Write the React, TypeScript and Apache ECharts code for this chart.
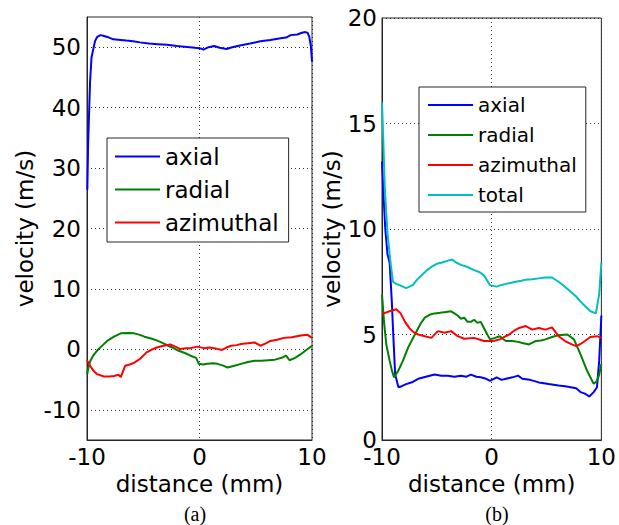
import React, { useEffect, useRef } from "react";
import * as echarts from "echarts";

// ---- Panel (a) data ----
const axialA_x = [-9.97, -9.9, -9.8, -9.73, -9.6, -9.45, -9.29, -9.1, -8.8, -8.55, -8.2, -7.66, -7.0, -6.5, -5.9, -5.3, -4.5, -3.7, -2.9, -2.0, -1.1, -0.4, 0.1, 0.35, 0.8, 1.3, 1.8, 2.4, 2.9, 3.6, 4.5, 5.4, 6.3, 7.2, 7.7, 8.1, 8.7, 9.1, 9.4, 9.6, 9.75, 9.9, 10];
const axialA_y = [26.4, 34, 40, 44.2, 48.3, 49.6, 51.0, 51.7, 52.0, 51.9, 51.7, 51.3, 51.2, 51.1, 51.0, 50.8, 50.6, 50.5, 50.4, 50.2, 50.05, 49.9, 49.8, 49.6, 50.0, 50.2, 49.9, 49.7, 50.0, 50.3, 50.6, 51.0, 51.2, 51.5, 51.6, 52.0, 52.1, 52.4, 52.5, 52.4, 51.8, 50.2, 47.6];

const radialA_x = [-9.98, -9.85, -9.7, -9.4, -9.1, -8.6, -8.2, -7.6, -7.0, -6.4, -5.8, -5.3, -4.9, -4.3, -3.7, -3.2, -2.8, -2.3, -1.9, -1.3, -0.8, -0.3, -0.06, 0.3, 0.7, 1.2, 1.6, 2.1, 2.5, 3.1, 3.7, 4.3, 4.9, 5.5, 6.1, 6.7, 7.3, 7.7, 8.0, 8.5, 9.0, 9.5, 10];
const radialA_y = [-4.1, -2.8, -1.9, -0.9, -0.2, 0.7, 1.4, 2.1, 2.65, 2.7, 2.65, 2.4, 2.1, 1.8, 1.4, 1.0, 0.6, 0.2, -0.2, -0.6, -1.05, -1.4, -2.4, -2.5, -2.4, -2.3, -2.4, -2.7, -3.0, -2.7, -2.4, -2.1, -1.9, -1.9, -1.8, -1.7, -1.4, -1.05, -1.8, -1.4, -0.8, -0.1, 0.6];

const azimA_x = [-10, -9.7, -9.4, -9.1, -8.5, -8.0, -7.6, -7.2, -7.0, -6.6, -6.2, -5.8, -5.3, -4.7, -4.2, -3.8, -3.2, -2.6, -2.1, -1.7, -1.2, -0.8, -0.2, 0.4, 0.9, 1.3, 2.0, 2.4, 2.8, 3.3, 3.7, 4.3, 4.9, 5.4, 5.9, 6.3, 6.9, 7.5, 8.2, 9.0, 9.6, 10];
const azimA_y = [-1.8, -2.8, -3.6, -4.1, -4.5, -4.5, -4.4, -4.2, -4.6, -2.7, -2.5, -2.2, -1.6, -0.5, 0.0, 0.3, 0.6, 0.8, 0.4, 0.05, 0.2, 0.2, 0.45, 0.2, 0.3, 0.2, -0.1, 0.3, 0.6, 0.7, 0.9, 1.0, 1.15, 0.6, 1.0, 1.4, 1.6, 1.9, 2.0, 2.3, 2.4, 1.9];

// ---- Panel (b) data ----
const axialB_x = [-10, -9.85, -9.7, -9.5, -9.3, -9.1, -9.0, -8.8, -8.5, -8.2, -7.8, -7.2, -6.7, -6.0, -5.2, -4.6, -4.0, -3.4, -2.8, -2.3, -1.9, -1.4, -1.0, -0.5, -0.15, 0.45, 0.9, 1.3, 1.9, 2.4, 2.8, 3.5, 4.3, 5.2, 6.1, 6.7, 7.2, 7.7, 8.1, 8.5, 8.9, 9.3, 9.6, 9.8, 10];
const axialB_y = [13.2, 11.5, 10.0, 8.8, 8.4, 6.5, 5.3, 3.1, 2.5, 2.55, 2.65, 2.75, 2.9, 3.0, 3.1, 3.05, 3.05, 3.0, 3.05, 3.0, 3.1, 3.0, 2.97, 2.9, 2.8, 2.97, 2.85, 2.9, 2.97, 3.05, 2.9, 2.85, 2.73, 2.65, 2.58, 2.55, 2.5, 2.45, 2.27, 2.2, 2.06, 2.27, 2.5, 3.75, 5.9];

const radialB_x = [-10, -9.8, -9.6, -9.3, -9.1, -8.9, -8.5, -8.1, -7.6, -7.0, -6.5, -6.1, -5.6, -5.2, -4.7, -4.3, -3.7, -3.4, -3.1, -2.8, -2.5, -2.2, -1.9, -1.6, -1.3, -1.0, -0.7, -0.4, -0.15, 0.3, 0.74, 1.0, 1.3, 1.9, 2.4, 2.8, 3.4, 4.0, 4.5, 4.9, 5.5, 6.1, 6.9, 7.5, 8.1, 8.7, 9.3, 9.6, 9.8, 10];
const radialB_y = [6.9, 5.5, 4.5, 3.75, 3.3, 2.97, 3.3, 3.75, 4.4, 5.0, 5.5, 5.8, 5.95, 6.0, 6.03, 6.06, 6.1, 6.0, 5.9, 5.75, 5.8, 5.6, 5.6, 5.7, 5.55, 5.6, 5.3, 5.0, 4.77, 4.84, 4.92, 4.8, 4.69, 4.69, 4.65, 4.6, 4.53, 4.69, 4.72, 4.77, 4.88, 4.97, 5.0, 4.77, 4.06, 3.28, 2.66, 2.8, 3.1, 3.6];

const azimB_x = [-10, -9.6, -9.3, -8.7, -8.3, -7.9, -7.5, -7.1, -6.7, -6.1, -5.5, -4.9, -4.3, -3.7, -3.1, -2.5, -1.6, -0.7, 0.15, 0.74, 1.2, 1.6, 2.1, 2.5, 3.1, 3.7, 4.3, 4.9, 5.5, 6.1, 6.7, 7.3, 7.7, 8.1, 8.5, 9.0, 9.6, 10];
const azimB_y = [5.97, 6.05, 6.1, 6.2, 6.0, 5.6, 5.3, 5.1, 5.0, 4.92, 4.84, 5.16, 5.08, 5.16, 4.92, 4.8, 4.84, 4.69, 4.69, 4.77, 4.9, 5.0, 5.2, 5.31, 5.4, 5.23, 5.31, 5.23, 5.34, 4.92, 4.69, 4.53, 4.45, 4.55, 4.69, 4.88, 4.92, 4.84];

const totalB_x = [-10, -9.9, -9.75, -9.5, -9.2, -9.0, -8.7, -8.4, -7.8, -7.2, -6.8, -6.4, -5.9, -5.5, -5.0, -4.6, -4.0, -3.6, -3.2, -2.8, -2.2, -1.6, -1.1, -0.7, -0.15, 0.45, 0.9, 1.3, 1.8, 2.2, 2.7, 3.1, 3.7, 4.3, 4.9, 5.5, 6.1, 6.6, 7.2, 7.7, 8.1, 8.6, 9.0, 9.5, 9.8, 10];
const totalB_y = [16.0, 14.5, 12.0, 9.8, 8.3, 7.5, 7.4, 7.34, 7.2, 7.34, 7.6, 7.8, 8.05, 8.2, 8.35, 8.4, 8.5, 8.55, 8.4, 8.3, 8.2, 8.05, 7.95, 7.8, 7.34, 7.27, 7.35, 7.4, 7.45, 7.5, 7.55, 7.6, 7.62, 7.66, 7.7, 7.7, 7.5, 7.3, 7.03, 6.8, 6.56, 6.3, 6.1, 6.0, 6.9, 8.4];

const legendA = ["axial", "radial", "azimuthal"];
const legendB = ["axial", "radial", "azimuthal", "total"];
const xTicks = { min: -10, max: 10, interval: 10 };
const yTicksA = { min: -15, max: 55, interval: 5, labelStep: 10 };
const yTicksB = { min: 0, max: 20, interval: 5 };
const xName = "distance (mm)";
const yName = "velocity (m/s)";
const panelLabels = ["(a)", "(b)"];

const COLORS = { axial: "#0000ff", radial: "#008000", azimuthal: "#ff0000", total: "#00bfbf" };

const zip = (xs: number[], ys: number[]) => xs.map((x, i) => [x, ys[i]]);

const FONT = "DejaVu Sans";
const AXIS_COLOR = "#262626";

export default function App() {
  const ref = useRef<HTMLDivElement>(null);
  useEffect(() => {
    document.body.style.margin = "0";
    const chart = echarts.init(ref.current!, null, { renderer: "svg" });
    const labelStyle = { color: "#000", fontFamily: FONT, fontSize: 23 };
    const gridLine = { show: true, lineStyle: { color: "#333", type: [1, 3], width: 1 } };
    const axisLine = { show: true, onZero: false, lineStyle: { color: AXIS_COLOR, width: 1 } };
    const mkX = (gridIndex: number) => ({
      type: "value",
      gridIndex,
      min: xTicks.min,
      max: xTicks.max,
      interval: xTicks.interval,
      name: xName,
      nameLocation: "middle",
      nameGap: 25,
      nameTextStyle: labelStyle,
      axisLine,
      axisTick: { show: false },
      axisLabel: { ...labelStyle, margin: 5 },
      splitLine: gridLine,
    });
    const series: any[] = [
      { name: "axial", data: zip(axialA_x, axialA_y), xAxisIndex: 0, yAxisIndex: 0 },
      { name: "radial", data: zip(radialA_x, radialA_y), xAxisIndex: 0, yAxisIndex: 0 },
      { name: "azimuthal", data: zip(azimA_x, azimA_y), xAxisIndex: 0, yAxisIndex: 0 },
      { name: "axial", data: zip(axialB_x, axialB_y), xAxisIndex: 1, yAxisIndex: 1 },
      { name: "radial", data: zip(radialB_x, radialB_y), xAxisIndex: 1, yAxisIndex: 1 },
      { name: "azimuthal", data: zip(azimB_x, azimB_y), xAxisIndex: 1, yAxisIndex: 1 },
      { name: "total", data: zip(totalB_x, totalB_y), xAxisIndex: 1, yAxisIndex: 1 },
    ].map((s) => ({
      ...s,
      type: "line",
      showSymbol: false,
      symbol: "none",
      color: (COLORS as any)[s.name],
      lineStyle: { width: 2, color: (COLORS as any)[s.name] },
      z: 3,
    }));
    const legendBase = {
      orient: "vertical",
      icon: "rect",
      itemWidth: 45,
      itemHeight: 2,
      borderColor: AXIS_COLOR,
      borderWidth: 1,
      backgroundColor: "#fff",
      borderRadius: 0,
      selectedMode: false,
      z: 10,
    };
    chart.setOption({
      animation: false,
      grid: [
        { left: 87, top: 17, width: 225, height: 423, show: true, borderColor: AXIS_COLOR, borderWidth: 1, backgroundColor: "transparent" },
        { left: 382, top: 18, width: 226, height: 422, show: true, borderColor: AXIS_COLOR, borderWidth: 1, backgroundColor: "transparent" },
      ],
      xAxis: [mkX(0), mkX(1)],
      yAxis: [
        {
          type: "value",
          gridIndex: 0,
          min: yTicksA.min,
          max: yTicksA.max,
          interval: yTicksA.interval,
          name: yName,
          nameLocation: "middle",
          nameGap: 51,
          nameTextStyle: labelStyle,
          axisLine,
          axisTick: { show: false },
          axisLabel: {
            ...labelStyle,
            margin: 6,
            formatter: (v: number) => (v % yTicksA.labelStep === 0 ? String(v) : ""),
          },
          splitLine: { show: true, lineStyle: { color: ["rgba(0,0,0,0)", "#333"], type: [1, 3], width: 1 } },
        },
        {
          type: "value",
          gridIndex: 1,
          min: yTicksB.min,
          max: yTicksB.max,
          interval: yTicksB.interval,
          name: yName,
          nameLocation: "middle",
          nameGap: 39,
          nameTextStyle: labelStyle,
          axisLine,
          axisTick: { show: false },
          axisLabel: { ...labelStyle, margin: 5 },
          splitLine: gridLine,
        },
      ],
      legend: [
        {
          ...legendBase,
          data: legendA,
          left: 107,
          top: 138,
          padding: [7, 10, 8, 8],
          itemGap: 10,
          textStyle: { color: "#000", fontFamily: FONT, fontSize: 23 },
        },
        {
          ...legendBase,
          data: legendB,
          left: 419,
          top: 87,
          padding: [8, 9, 7, 9],
          itemGap: 10,
          textStyle: { color: "#000", fontFamily: FONT, fontSize: 20 },
        },
      ],
      graphic: [
        { type: "text", x: 195, y: 514, style: { text: panelLabels[0], font: '20px "Liberation Serif"', fill: "#000", textAlign: "center", textVerticalAlign: "middle" } },
        { type: "text", x: 497, y: 514, style: { text: panelLabels[1], font: '20px "Liberation Serif"', fill: "#000", textAlign: "center", textVerticalAlign: "middle" } },
      ],
      series,
    });
    return () => chart.dispose();
  }, []);
  return <div ref={ref} style={{ width: 619, height: 525 }} />;
}
